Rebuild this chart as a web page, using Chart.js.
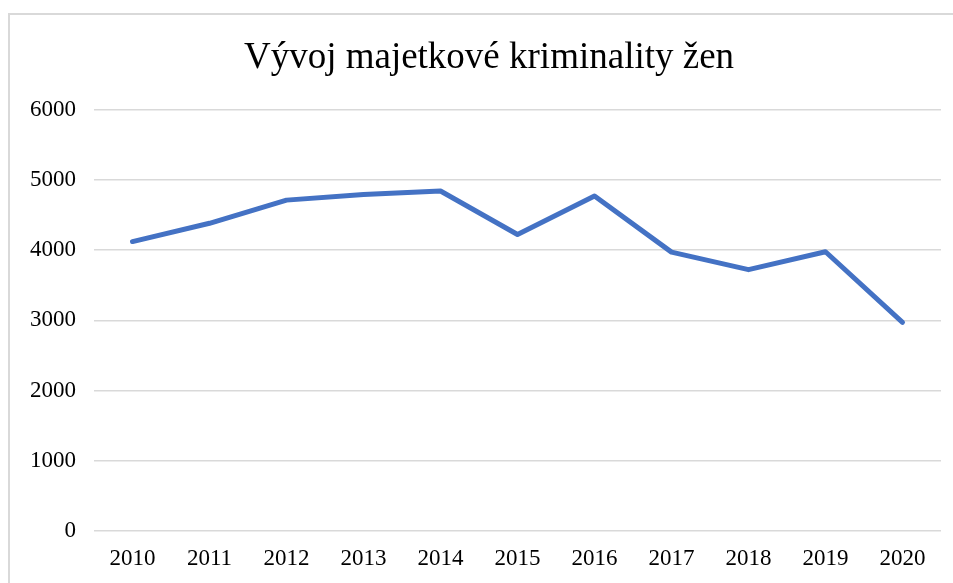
<!DOCTYPE html>
<html>
<head>
<meta charset="utf-8">
<script src="https://cdn.jsdelivr.net/npm/chart.js@4/dist/chart.umd.min.js"></script>
<style>
  html, body { margin: 0; padding: 0; background: #ffffff; }
  #wrap { position: relative; width: 953px; height: 583px; }
</style>
</head>
<body>
<div id="wrap"><canvas id="c"></canvas></div>
<script>
const chartTitle = "Vývoj majetkové kriminality žen";
const years = ["2010", "2011", "2012", "2013", "2014", "2015", "2016", "2017", "2018", "2019", "2020"];
const values = [4120, 4380, 4710, 4790, 4840, 4220, 4770, 3970, 3720, 3975, 2970];
const yTicks = [0, 1000, 2000, 3000, 4000, 5000, 6000];

const serif = '"Liberation Serif", "Times New Roman", serif';

const frameAndTitle = {
  id: 'frameAndTitle',
  beforeDraw(chart) {
    const ctx = chart.ctx;
    ctx.save();
    ctx.strokeStyle = '#d9d9d9';
    ctx.lineWidth = 2;
    ctx.strokeRect(9, 14, 1200, 1200);
    ctx.restore();
  },
  afterDraw(chart) {
    const ctx = chart.ctx;
    ctx.save();
    ctx.fillStyle = '#000000';
    ctx.font = '37px ' + serif;
    ctx.textAlign = 'center';
    ctx.textBaseline = 'middle';
    ctx.fillText(chartTitle, 489, 58);
    ctx.restore();
  }
};

new Chart(document.getElementById('c'), {
  type: 'line',
  data: {
    labels: years,
    datasets: [{
      data: values,
      borderColor: '#4472C4',
      backgroundColor: '#4472C4',
      borderWidth: 5,
      pointRadius: 0,
      pointHoverRadius: 0,
      borderCapStyle: 'round',
      borderJoinStyle: 'round',
      tension: 0,
      fill: false
    }]
  },
  options: {
    responsive: true,
    maintainAspectRatio: false,
    animation: false,
    layout: { padding: { left: 0, right: 12, top: 109.5, bottom: 0 } },
    plugins: {
      legend: { display: false },
      tooltip: { enabled: false },
      title: { display: false, text: chartTitle }
    },
    scales: {
      x: {
        type: 'category',
        offset: true,
        grid: { display: false, drawTicks: false },
        border: { display: false },
        ticks: {
          color: '#000000',
          font: { family: serif, size: 23 },
          padding: 14,
          maxRotation: 0,
          autoSkip: false
        },
        afterFit(scale) { scale.height = 583 - 531; }
      },
      y: {
        min: 0,
        max: 6000,
        afterBuildTicks(scale) { scale.ticks = yTicks.map(v => ({ value: v })); },
        grid: { color: '#d9d9d9', lineWidth: 1.5, drawTicks: false },
        border: { display: false },
        ticks: {
          color: '#000000',
          font: { family: serif, size: 23 },
          padding: 18,
          callback: (v) => String(v)
        },
        afterFit(scale) { scale.width = 94; }
      }
    }
  },
  plugins: [frameAndTitle]
});
</script>
</body>
</html>
